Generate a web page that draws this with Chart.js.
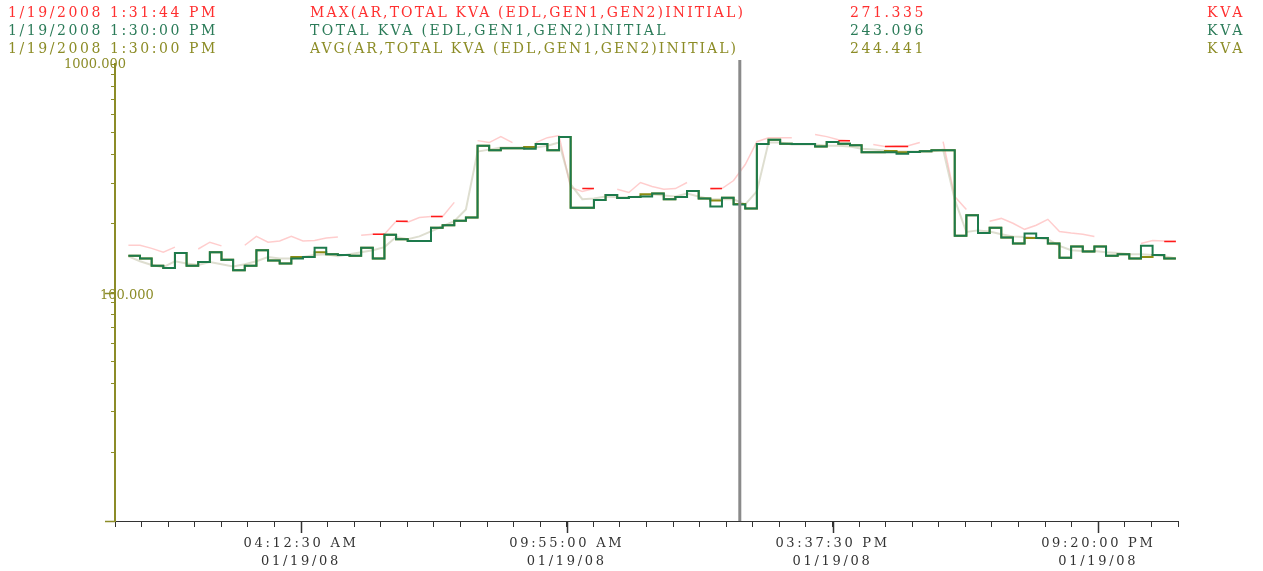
<!DOCTYPE html>
<html>
<head>
<meta charset="utf-8">
<script src="https://cdn.jsdelivr.net/npm/chart.js@4.4.0/dist/chart.umd.min.js"></script>
<style>
body{margin:0;background:#fff;}
#wrap{position:relative;width:1263px;height:571px;}
#hdr span{position:absolute;font-family:'DejaVu Serif';font-size:14px;line-height:16px;white-space:pre;}
</style>
</head>
<body>
<div id="wrap">
<canvas id="myChart" width="1263" height="571"></canvas>
<div id="hdr"></div>
</div>
<script>
const ctx = document.getElementById('myChart');

// header readout
const hdrTimes = ['1/19/2008 1:31:44 PM', '1/19/2008 1:30:00 PM', '1/19/2008 1:30:00 PM'];
const hdrNames = ['MAX(AR,TOTAL KVA (EDL,GEN1,GEN2)INITIAL)', 'TOTAL KVA (EDL,GEN1,GEN2)INITIAL', 'AVG(AR,TOTAL KVA (EDL,GEN1,GEN2)INITIAL)'];
const hdrValues = ['271.335', '243.096', '244.441'];
const hdrUnits = ['KVA', 'KVA', 'KVA'];
const hdrColors = ['#ff2f2f', '#2b7b58', '#8c8c26'];

// x axis window (minutes after midnight, 01/19/08)
const axisStart = 12.75, axisEnd = 1382.75, tickStep = 34.25;
const labelDate = '01/19/08';
const firstSample = 30, sampleStep = 15;
const cursorMinute = 818;

// 15 minute samples, KVA
const totalKva = [145, 141, 131, 128, 149, 131, 136, 150, 139, 125,
  131, 153, 138, 134, 141, 143, 157, 147, 146, 145,
  157, 141, 179, 171, 168, 168, 192, 197, 206, 213,
  439, 419, 428, 428, 426, 447, 419, 479, 235, 235,
  254, 267, 259, 262, 263, 271, 256, 262, 278, 258,
  238, 260, 243, 233, 447, 466, 448, 447, 447, 436,
  456, 448, 441, 411, 411, 411, 405, 412, 415, 419,
  419, 177, 218, 182, 192, 174, 164, 181, 173, 164,
  142, 159, 151, 159, 145, 147, 141, 160, 146, 141, 141];

const avgKva = [145, 141, 131, 128, 149, 131, 136, 150, 139, 125,
  131, 153, 138, 134, 143, 143, 150, 147, 146, 145,
  157, 141, 179, 171, 168, 168, 192, 197, 206, 213,
  439, 419, 428, 428, 433, 447, 419, 479, 235, 235,
  254, 267, 259, 262, 269, 271, 256, 262, 278, 258,
  253, 260, 244, 233, 447, 466, 448, 447, 447, 436,
  456, 448, 441, 411, 411, 416, 411, 412, 415, 419,
  419, 177, 218, 182, 192, 174, 164, 173, 173, 164,
  142, 159, 151, 159, 145, 147, 141, 143, 146, 141, 141];

const maxKva = [161, 161, 156, 150, 158, null, 155, 166, 160, null,
  161, 176, 166, 168, 176, 168, 169, 173, 175, null,
  178, 180, 180, 205, 203, 213, 215, 215, 248, null,
  462, 453, 481, 453, null, 453, 476, 486, 288, 277,
  285, null, 283, 274, 303, 291, 283, 285, 303, null,
  283, 285, 309, 363, 457, 476, 476, 476, null, 491,
  481, 466, 462, null, 444, 435, 439, 439, 453, null,
  457, 263, 231, null, 205, 211, 201, 189, 197, 209,
  185, 182, 180, 176, null, 175, null, 164, 169, 168, 168];

const minKva = [144, 137, 132, 129, 137, 134, 132, 136, 133, 130,
  133, 137, 143, 141, 141, 143, 146, 147, 144, 147,
  150, 153, 158, 175, 171, 176, 185, 195, 205, 231,
  414, 422, 431, 431, 431, 431, 439, 453, 297, 256,
  258, 263, 261, 261, 263, 269, 266, 263, 271, 263,
  256, 256, 256, 243, 277, 453, 453, 444, 444, 444,
  439, 439, 435, 426, 422, 418, 414, 414, 414, 414,
  422, 255, 184, 187, 185, 180, 176, 175, 173, 171,
  160, 153, 152, 152, 150, 149, 147, 147, 146, 144, 141];

// short bright max marks (sample index, value)
const maxMarkIdx = [21, 23, 26, 39, 50, 61, 65, 66, 89];
const maxMarkVal = [180, 205, 215, 285, 285, 462, 436, 436, 167];

const times = totalKva.map((v, i) => firstSample + i * sampleStep);
const pts = arr => arr.map((v, i) => ({x: times[i], y: v}));

const marks = [];
maxMarkIdx.forEach((i, n) => {
  marks.push({x: times[i], y: maxMarkVal[n]}, {x: times[i + 1], y: maxMarkVal[n]}, {x: times[i + 1], y: null});
});

const xTicks = [];
for (let v = axisStart; v <= axisEnd + 0.01; v += tickStep) xTicks.push(v);
const yTicks = [];
[10, 100].forEach(d => { for (let k = 1; k < 10; k++) yTicks.push(d * k); });
yTicks.push(1000);

const isMajorX = v => Math.round((v - axisStart) / tickStep) % 10 === 7;
const pad = n => String(n).padStart(2, '0');
function fmtTime(m) {
  const s = Math.round(m * 60);
  const h = Math.floor(s / 3600), mi = Math.floor(s % 3600 / 60), se = s % 60;
  let h12 = h % 12; if (h12 === 0) h12 = 12;
  return pad(h12) + ':' + pad(mi) + ':' + pad(se) + ' ' + (h >= 12 ? 'PM' : 'AM');
}

// header text
const hdr = document.getElementById('hdr');
const rowY = [12, 30, 48];
const colX = [8, 310, 850, 1207];
const nameW = [435, 358, 428];
function addText(txt, x, yc, w, color) {
  const s = document.createElement('span');
  s.textContent = txt;
  s.style.left = x + 'px';
  s.style.top = (yc - 8) + 'px';
  s.style.color = color;
  hdr.appendChild(s);
  const nat = s.getBoundingClientRect().width;
  s.style.letterSpacing = ((w - nat) / txt.length) + 'px';
}
for (let r = 0; r < 3; r++) {
  addText(hdrTimes[r], colX[0], rowY[r], 210, hdrColors[r]);
  addText(hdrNames[r], colX[1], rowY[r], nameW[r], hdrColors[r]);
  addText(hdrValues[r], colX[2], rowY[r], 76, hdrColors[r]);
  addText(hdrUnits[r], colX[3], rowY[r], 38, hdrColors[r]);
}

const axisExtras = {
  id: 'axisExtras',
  beforeDraw(chart) {
    chart.ctx.letterSpacing = '2.7px';
  },
  afterDatasetsDraw(chart) {
    const c = chart.ctx, a = chart.chartArea;
    const x = chart.scales.x.getPixelForValue(cursorMinute);
    c.save();
    c.strokeStyle = '#8a8a8a';
    c.lineWidth = 3;
    c.beginPath();
    c.moveTo(x, a.top - 4);
    c.lineTo(x, a.bottom);
    c.stroke();
    c.restore();
  },
  afterDraw(chart) {
    const c = chart.ctx, a = chart.chartArea, xs = chart.scales.x, ys = chart.scales.y;
    c.save();
    c.letterSpacing = '0px';
    // longer major ticks
    c.strokeStyle = '#333';
    c.lineWidth = 1.5;
    xTicks.filter(isMajorX).forEach(v => {
      const px = Math.round(xs.getPixelForValue(v)) + 0.5;
      c.beginPath(); c.moveTo(px, a.bottom); c.lineTo(px, a.bottom + 12); c.stroke();
    });
    c.strokeStyle = '#8c8c28';
    [10, 100].forEach(v => {
      const py = Math.round(ys.getPixelForValue(v)) + 0.5;
      c.beginPath(); c.moveTo(a.left - 10, py); c.lineTo(a.left, py); c.stroke();
    });
    // y labels
    c.fillStyle = '#8c8c28';
    c.font = '13px "DejaVu Serif"';
    c.textBaseline = 'middle';
    c.textAlign = 'right';
    c.fillText('1000.000', a.left + 11, ys.getPixelForValue(1000) + 1);
    c.textAlign = 'left';
    c.fillText('100.000', a.left - 15, ys.getPixelForValue(100) + 3);
    c.restore();
  }
};

new Chart(ctx, {
  type: 'line',
  data: {
    datasets: [
      {label: 'TOTAL KVA', data: pts(totalKva), stepped: 'before', borderColor: '#1d7a4c', borderWidth: 2, pointRadius: 0, order: 1},
      {label: 'MAX marks', data: marks, borderColor: '#ff1a1a', borderWidth: 1.5, pointRadius: 0, spanGaps: false, order: 2},
      {label: 'AVG', data: pts(avgKva), stepped: 'before', borderColor: '#8c8c14', borderWidth: 2, pointRadius: 0, order: 3},
      {label: 'MIN', data: pts(minKva), borderColor: 'rgba(195,195,170,0.55)', borderWidth: 2, pointRadius: 0, order: 4},
      {label: 'MAX', data: pts(maxKva), borderColor: 'rgba(255,130,130,0.4)', borderWidth: 1.5, pointRadius: 0, spanGaps: false, order: 5}
    ]
  },
  options: {
    responsive: false,
    animation: false,
    layout: {padding: {top: 64, right: 85, left: 0, bottom: 0}},
    plugins: {legend: {display: false}, tooltip: {enabled: false}},
    scales: {
      x: {
        type: 'linear', min: axisStart, max: axisEnd,
        afterBuildTicks: s => { s.ticks = xTicks.map(v => ({value: v})); },
        afterFit: s => { s.height = 50; },
        grid: {drawOnChartArea: false, color: '#333', tickLength: 6},
        border: {color: '#333', width: 1},
        ticks: {
          autoSkip: false, maxRotation: 0, padding: 8, color: '#333',
          font: {family: 'DejaVu Serif', size: 13, lineHeight: 1.35},
          callback: v => isMajorX(v) ? [fmtTime(v), labelDate] : ''
        }
      },
      y: {
        type: 'logarithmic', min: 10, max: 1000,
        afterBuildTicks: s => { s.ticks = yTicks.map(v => ({value: v})); },
        afterFit: s => { s.width = 115; },
        grid: {drawOnChartArea: false, color: '#8c8c28', tickLength: 4},
        border: {color: '#8c8c28', width: 2},
        ticks: {padding: 0, callback: () => ''}
      }
    }
  },
  plugins: [axisExtras]
});
</script>
</body>
</html>
